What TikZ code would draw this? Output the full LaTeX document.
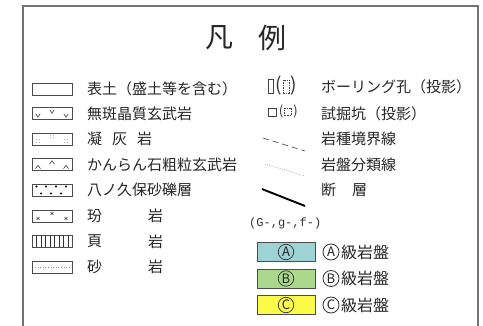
\documentclass[tikz,border=0pt]{standalone}
\usepackage{fontspec}
\newfontfamily\jp{Noto Sans CJK JP}
\newfontfamily\mono{Liberation Mono}
\begin{document}
\begin{tikzpicture}[x=1pt,y=-1pt,
  frameline/.style={draw=black!55, line width=1.1pt},
  sw/.style={draw=black!70, line width=0.8pt, minimum width=40pt, minimum height=12pt, inner sep=0, outer sep=0},
  lbl/.style={anchor=west, inner sep=0, font=\jp\fontsize{15}{15}\selectfont, text=black!85},
  ttl/.style={inner sep=0, font=\jp\fontsize{28}{28}\selectfont, text=black!85},
  symb/.style={draw=black!75, line width=0.6pt},
  grade/.style={draw=black!70, line width=0.8pt, minimum width=58pt, minimum height=19pt, inner sep=0},
  circ/.style={draw=black!80, circle, line width=0.7pt, minimum size=15.5pt, inner sep=0, font=\jp\fontsize{13}{13}\selectfont, text=black!85},
  circt/.style={draw=black!80, circle, line width=0.8pt, minimum size=16pt, inner sep=0, font=\jp\fontsize{13}{13}\selectfont, text=black!85}
]
\useasboundingbox (0,0) rectangle (483,326);
\fill[white] (0,0) rectangle (483,326);
% frame open at the bottom
\coordinate (fbl) at (23,330);
\coordinate (ftl) at (23,6);
\coordinate (ftr) at (478,6);
\coordinate (fbr) at (478,330);
\draw[frameline] (fbl) -- (ftl) -- (ftr) -- (fbr);

% title
\node[ttl] (t1) at (219,38) {凡};
\node[ttl] (t2) at (272,38) {例};

% left column swatches
\node[sw] (s1) at (52,89) {};
\node[sw] (s2) at (52,113.5) {};
\node[sw] (s3) at (52,139) {};
\node[sw] (s4) at (52,164.5) {};
\node[sw] (s5) at (52,190) {};
\node[sw] (s6) at (52,216) {};
\node[sw, line width=1pt] (s7) at (52,241.5) {};
\node[sw] (s8) at (52,267) {};

% patterns
% v marks
\foreach \x/\y in {38/115.5, 52/111.5, 66/115.5}
  \draw[symb] (\x-2.2,\y-1.7) -- (\x,\y+1.7) -- (\x+2.2,\y-1.7);
% tuff marks
\foreach \x/\y in {38/141, 52/136.5, 66/141}
  \foreach \dx/\dy in {-1.3/-1.3, 1.3/-1.3, -1.3/1.3, 1.3/1.3}
    \fill[black!60] (\x+\dx,\y+\dy) circle (0.45pt);
% caret marks
\foreach \x/\y in {38/167, 52/162.5, 66/167}
  \draw[symb] (\x-2.5,\y+1.7) -- (\x,\y-1.7) -- (\x+2.5,\y+1.7);
% gravel dots
\foreach \x in {36.5,46,56,66}
  \fill[black] (\x,186.5) circle (1.1pt);
\foreach \x in {41,51,61}
  \fill[black] (\x,193.5) circle (1.1pt);
% x marks
\foreach \x/\y in {38/218.5, 52/213.5, 66/218.5}
  \draw[symb, line width=0.5pt] (\x-1.5,\y-1.5) -- (\x+1.5,\y+1.5) (\x-1.5,\y+1.5) -- (\x+1.5,\y-1.5);
% shale vertical lines
\foreach \x in {36.5,41,45.5,50,54.5,59,63.5,68}
  \draw[black!80, line width=0.8pt] (\x,235.5) -- (\x,247.5);
% sandstone faint dotted line
\draw[black!45, line width=0.5pt, dash pattern=on 1pt off 1.6pt] (35,267) -- (69,267);

% left labels
\node[lbl] (l1) at (87,89) {表土（盛土等を含む）};
\node[lbl] (l2) at (87,113.5) {無斑晶質玄武岩};
\node[lbl] (l3) at (87,139) {凝\hspace{10pt}灰\hspace{10pt}岩};
\node[lbl] (l4) at (87,164.5) {かんらん石粗粒玄武岩};
\node[lbl] (l5) at (87,190) {八ノ久保砂礫層};
\node[lbl] (l6a) at (87,216) {玢};
\node[lbl] (l6b) at (148,216) {岩};
\node[lbl] (l7a) at (87,241.5) {頁};
\node[lbl] (l7b) at (148,241.5) {岩};
\node[lbl] (l8a) at (87,267) {砂};
\node[lbl] (l8b) at (148,267) {岩};

% right column: boring icons
\node[draw=black!75, line width=0.7pt, minimum width=5pt, minimum height=14pt, inner sep=0] (b1) at (270.5,86.5) {};
\node[inner sep=0, font=\jp\fontsize{19}{19}\selectfont, text=black!80] (bp1) at (278.5,86) {(};
\node[draw=black!75, line width=0.7pt, dash pattern=on 1.5pt off 1pt, minimum width=6pt, minimum height=13pt, inner sep=0] (b2) at (286,86.5) {};
\node[inner sep=0, font=\jp\fontsize{19}{19}\selectfont, text=black!80] (bp2) at (293.5,86) {)};
% trench icons
\node[draw=black!75, line width=0.7pt, minimum width=8pt, minimum height=8pt, inner sep=0] (tr1) at (272,112) {};
\node[inner sep=0, font=\jp\fontsize{13}{13}\selectfont, text=black!80] (tp1) at (281,111.5) {(};
\node[draw=black!75, line width=0.7pt, dash pattern=on 1.5pt off 1pt, minimum width=7pt, minimum height=7pt, inner sep=0] (tr2) at (288,112) {};
\node[inner sep=0, font=\jp\fontsize{13}{13}\selectfont, text=black!80] (tp2) at (295.5,111.5) {)};

% boundary lines
\coordinate (d1a) at (263,138);
\coordinate (d1b) at (305,151);
\draw[black!75, line width=0.6pt, dash pattern=on 6pt off 4pt] (d1a) -- (d1b);
\coordinate (d2a) at (265,164);
\coordinate (d2b) at (305,176);
\draw[black!45, line width=0.5pt, dash pattern=on 0.8pt off 1.4pt] (d2a) -- (d2b);
\coordinate (d3a) at (262,189);
\coordinate (d3b) at (305,206);
\draw[black, line width=1.9pt] (d3a) -- (d3b);

% right labels
\node[lbl] (r1) at (321,87) {ボーリング孔（投影）};
\node[lbl] (r2) at (321,113.5) {試掘坑（投影）};
\node[lbl] (r3) at (321,139) {岩種境界線};
\node[lbl] (r4) at (321,164.5) {岩盤分類線};
\node[lbl] (r5a) at (321,190) {断};
\node[lbl] (r5b) at (352,190) {層};
\node[anchor=west, inner sep=0, font=\mono\fontsize{12}{12}\selectfont, text=black!80] (r6) at (249,223) {(G-,g-,f-)};

% rock grade boxes
\node[grade, fill={rgb,255:red,158;green,211;blue,214}] (ga) at (286,252) {};
\node[grade, fill={rgb,255:red,170;green,216;blue,140}] (gb) at (286,278.5) {};
\node[grade, fill={rgb,255:red,251;green,250;blue,72}] (gc) at (286,305) {};
\node[circ] (ca) at (ga.center) {A};
\node[circ] (cb) at (gb.center) {B};
\node[circ] (cc) at (gc.center) {C};
\node[circt] (cta) at (331,252) {A};
\node[circt] (ctb) at (331,278.5) {B};
\node[circt] (ctc) at (331,305) {C};
\node[lbl, font=\jp\fontsize{16}{16}\selectfont] (ra) at (341,252) {級岩盤};
\node[lbl, font=\jp\fontsize{16}{16}\selectfont] (rb) at (341,278.5) {級岩盤};
\node[lbl, font=\jp\fontsize{16}{16}\selectfont] (rc) at (341,305) {級岩盤};
\end{tikzpicture}
\end{document}
